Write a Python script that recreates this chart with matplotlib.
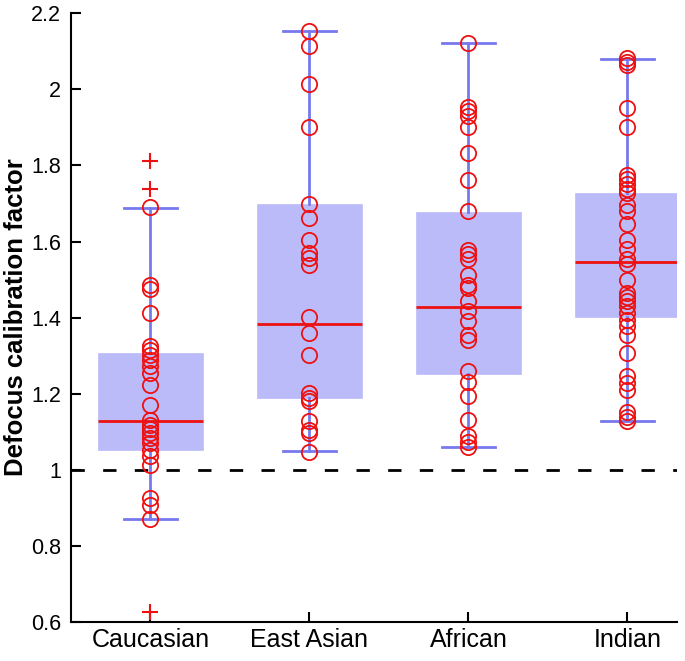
import matplotlib
matplotlib.use("Agg")
import matplotlib.pyplot as plt

plt.rcParams['font.family'] = ['Liberation Sans', 'DejaVu Sans']

groups = ["Caucasian", "East Asian", "African", "Indian"]

# individual samples (drawn as open circles)
caucasian = [1.69, 1.487, 1.474, 1.412, 1.325, 1.314, 1.303, 1.289, 1.272, 1.254,
             1.222, 1.170, 1.130, 1.118, 1.108, 1.097, 1.083, 1.070, 1.053, 1.035,
             1.013, 0.926, 0.908, 0.870]
east_asian = [2.152, 2.114, 2.015, 1.901, 1.699, 1.661, 1.605, 1.570, 1.557, 1.538,
              1.402, 1.360, 1.303, 1.202, 1.189, 1.180, 1.127, 1.105, 1.097, 1.048]
african = [2.121, 1.954, 1.943, 1.930, 1.902, 1.833, 1.761, 1.680, 1.579, 1.566,
           1.555, 1.511, 1.487, 1.478, 1.443, 1.417, 1.390, 1.353, 1.342, 1.259,
           1.232, 1.193, 1.132, 1.088, 1.074, 1.061]
indian = [2.083, 2.072, 2.063, 1.952, 1.902, 1.776, 1.763, 1.750, 1.737, 1.728,
          1.697, 1.680, 1.645, 1.605, 1.581, 1.553, 1.542, 1.500, 1.465, 1.454,
          1.443, 1.430, 1.412, 1.395, 1.377, 1.355, 1.307, 1.246, 1.228, 1.211,
          1.153, 1.140, 1.127]
samples = [caucasian, east_asian, african, indian]

# box statistics
q1 = [1.051, 1.190, 1.252, 1.402]
median = [1.127, 1.382, 1.427, 1.545]
q3 = [1.307, 1.698, 1.678, 1.728]
whis_lo = [0.870, 1.050, 1.061, 1.129]
whis_hi = [1.689, 2.152, 2.121, 2.079]
outliers = [[1.811, 1.739, 0.627], [], [], []]

stats = []
for i, g in enumerate(groups):
    stats.append({"label": g, "q1": q1[i], "med": median[i], "q3": q3[i],
                  "whislo": whis_lo[i], "whishi": whis_hi[i], "fliers": outliers[i]})

box_color = "#bbbbf9"
whisk_color = "#7878ee"
red = "#ee1111"

fig = plt.figure(figsize=(6.85, 6.61), dpi=100)
ax = fig.add_axes([0.1036, 0.059, 0.8844, 0.921])

pos = [1, 2, 3, 4]
ax.bxp(stats, positions=pos, widths=0.66, patch_artist=True, showfliers=True,
       boxprops=dict(facecolor=box_color, edgecolor=box_color, linewidth=0.5),
       whiskerprops=dict(color=whisk_color, linewidth=2),
       capprops=dict(color=whisk_color, linewidth=2),
       capwidths=0.33,
       medianprops=dict(color=red, linewidth=2),
       flierprops=dict(marker="+", markeredgecolor=red, markersize=11,
                       markeredgewidth=1.5, linestyle="none"),
       zorder=2)

for p, s in zip(pos, samples):
    ax.plot([p] * len(s), s, linestyle="none", marker="o", markersize=11,
            markerfacecolor="none", markeredgecolor=red, markeredgewidth=1.3,
            zorder=4)

ax.axhline(1.0, color="black", linestyle=(0, (4.8, 6.6)), linewidth=2, zorder=1)

ax.set_xlim(0.5, 4.31)
ax.set_ylim(0.6, 2.2)
ax.set_yticks([0.6, 0.8, 1.0, 1.2, 1.4, 1.6, 1.8, 2.0, 2.2])
ax.set_yticklabels(["0.6", "0.8", "1", "1.2", "1.4", "1.6", "1.8", "2", "2.2"])
ax.set_xticks(pos)
ax.set_xticklabels(groups)
ax.tick_params(direction="in", length=7, width=1.5)
ax.tick_params(axis="y", labelsize=15.5, pad=7)
ax.tick_params(axis="x", labelsize=18, pad=4)
ax.set_ylabel("Defocus calibration factor", fontsize=18.5, fontweight="bold", labelpad=2)

for side in ["top", "right"]:
    ax.spines[side].set_visible(False)
for side in ["left", "bottom"]:
    ax.spines[side].set_linewidth(1.5)

fig.savefig("out.png", dpi=100)
